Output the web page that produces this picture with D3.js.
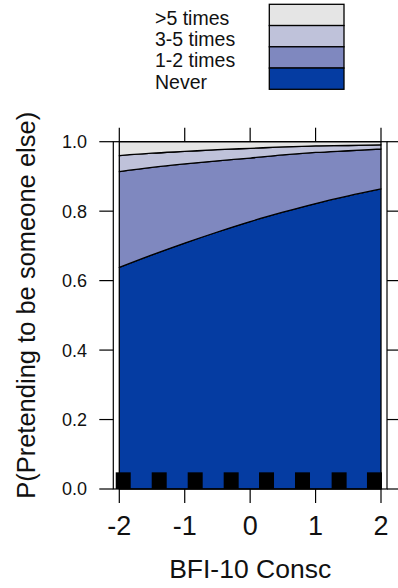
<!DOCTYPE html>
<html>
<head>
<meta charset="utf-8">
<script src="https://cdn.jsdelivr.net/npm/d3@7"></script>
<style>
  html, body { margin: 0; padding: 0; background: #fff; }
  svg { display: block; font-family: "Liberation Sans", Arial, Helvetica, sans-serif; }
</style>
</head>
<body>
<svg id="chart" width="398" height="588"></svg>
<script>
// Predicted response probabilities by conscientiousness score
const xValues   = [-2, -1.5, -1, -0.5, 0, 0.5, 1, 1.5, 2];
const pNever    = [0.638, 0.674, 0.708, 0.740, 0.770, 0.797, 0.822, 0.844, 0.864];
const p1to2     = [0.276, 0.252, 0.228, 0.205, 0.183, 0.165, 0.147, 0.130, 0.115];
const p3to5     = [0.046, 0.041, 0.036, 0.032, 0.028, 0.023, 0.019, 0.015, 0.012];
const pOver5    = [0.040, 0.033, 0.028, 0.023, 0.019, 0.015, 0.012, 0.011, 0.009];

// Response categories, bottom to top of the stack
const categories = ["Never", "1-2 times", "3-5 times", ">5 times"];
const colors     = ["#053ca2", "#7f88bf", "#bfc2da", "#e5e5e5"];

// Observed predictor values shown as a rug
const rugValues = [-1.94, -1.39, -0.84, -0.29, 0.25, 0.80, 1.36, 1.90];

const xTicks = [-2, -1, 0, 1, 2];
const yTicks = [0, 0.2, 0.4, 0.6, 0.8, 1.0];

const svg = d3.select("#chart");

const x = d3.scaleLinear().domain([-2, 2]).range([119.3, 381]);
const y = d3.scaleLinear().domain([0, 1]).range([489, 141.7]);

const boxLeft = x(-2) - 6, boxRight = x(2) + 6;
const boxTop = y(1), boxBottom = y(0);

// Stack the category probabilities
const rows = xValues.map((v, i) => ({
  x: v,
  "Never": pNever[i],
  "1-2 times": p1to2[i],
  "3-5 times": p3to5[i],
  ">5 times": pOver5[i]
}));
const series = d3.stack().keys(categories)(rows);

const area = d3.area()
  .x(d => x(d.data.x))
  .y0(d => y(d[0]))
  .y1(d => y(d[1]))
  .curve(d3.curveMonotoneX);

const plot = svg.append("g");
plot.selectAll("path.band")
  .data(series)
  .join("path")
  .attr("class", "band")
  .attr("d", area)
  .attr("fill", (d, i) => colors[i])
  .attr("stroke", "#000")
  .attr("stroke-width", 1.3)
  .attr("stroke-linejoin", "round");

// Rug of observed values
const rugW = 15;
plot.selectAll("rect.rug")
  .data(rugValues)
  .join("rect")
  .attr("class", "rug")
  .attr("x", d => x(d) - rugW / 2)
  .attr("width", rugW)
  .attr("y", y(0.048))
  .attr("height", y(0) - y(0.048))
  .attr("fill", "#000");

// Panel frame
svg.append("rect")
  .attr("x", boxLeft).attr("y", boxTop)
  .attr("width", boxRight - boxLeft).attr("height", boxBottom - boxTop)
  .attr("fill", "none").attr("stroke", "#000").attr("stroke-width", 1.2);

const tickLen = 14;

// Axes on all four sides
const axes = svg.append("g").attr("stroke", "#000").attr("stroke-width", 1.2);
axes.selectAll("line.yl").data(yTicks).join("line")
  .attr("x1", boxLeft - tickLen).attr("x2", boxLeft)
  .attr("y1", d => y(d)).attr("y2", d => y(d));
axes.selectAll("line.yr").data(yTicks).join("line")
  .attr("x1", boxRight).attr("x2", boxRight + tickLen)
  .attr("y1", d => y(d)).attr("y2", d => y(d));
axes.selectAll("line.xb").data(xTicks).join("line")
  .attr("x1", d => x(d)).attr("x2", d => x(d))
  .attr("y1", boxBottom).attr("y2", boxBottom + tickLen);
axes.selectAll("line.xt").data(xTicks).join("line")
  .attr("x1", d => x(d)).attr("x2", d => x(d))
  .attr("y1", boxTop - tickLen).attr("y2", boxTop);

svg.append("g").selectAll("text").data(yTicks).join("text")
  .attr("x", 87).attr("y", d => y(d)).attr("dy", "0.36em")
  .attr("text-anchor", "end").attr("font-size", 18).attr("fill", "#111")
  .text(d => d3.format(".1f")(d));

svg.append("g").selectAll("text").data(xTicks).join("text")
  .attr("x", d => x(d)).attr("y", 535)
  .attr("text-anchor", "middle").attr("font-size", 27).attr("fill", "#111")
  .text(d => d);

svg.append("text")
  .attr("x", (boxLeft + boxRight) / 2).attr("y", 578)
  .attr("text-anchor", "middle").attr("font-size", 26.5).attr("fill", "#111")
  .text("BFI-10 Consc");

svg.append("text")
  .attr("transform", `translate(35,${(boxTop + boxBottom) / 2 - 10}) rotate(-90)`)
  .attr("text-anchor", "middle").attr("font-size", 25.5).attr("fill", "#111")
  .text("P(Pretending to be someone else)");

// Legend, top category first
const legendOrder = categories.slice().reverse();
const legendColors = colors.slice().reverse();
const rowH = 21.25, legTop = 4.3;
const legend = svg.append("g");
legend.selectAll("rect").data(legendOrder).join("rect")
  .attr("x", 269.3).attr("y", (d, i) => legTop + i * rowH)
  .attr("width", 74.7).attr("height", rowH)
  .attr("fill", (d, i) => legendColors[i])
  .attr("stroke", "#000").attr("stroke-width", 1.3);
legend.selectAll("text").data(legendOrder).join("text")
  .attr("x", 155).attr("y", (d, i) => legTop + i * rowH + 20.5)
  .attr("font-size", 19.5).attr("fill", "#111")
  .text(d => d);
</script>
</body>
</html>
